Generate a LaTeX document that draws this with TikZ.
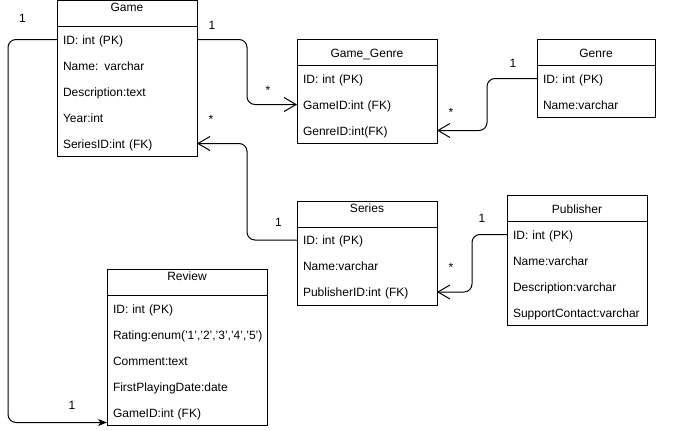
\documentclass[tikz,border=0pt]{standalone}
\usepackage{fontspec}
\setmainfont{Liberation Sans}
\usetikzlibrary{arrows.meta}

\begin{document}
\begin{tikzpicture}[
  x=1pt, y=-1pt,
  font=\fontsize{12}{14}\selectfont,
  line width=1pt,
  frame/.style={draw, anchor=north west, inner sep=0pt, outer sep=0pt},
  head/.style={draw, anchor=north west, inner sep=0pt, outer sep=0pt, minimum height=26pt},
  title/.style={anchor=base, inner sep=0pt},
  row/.style={anchor=north west, inner xsep=6pt, inner ysep=0pt, outer sep=0pt,
              text height=17.5pt, text depth=8.5pt, align=left},
  card/.style={anchor=base, inner sep=0pt},
  rel/.style={draw, rounded corners=8pt, -{Straight Barb[length=12pt,width=14pt]}},
  relf/.style={draw, rounded corners=8pt, -{Stealth[length=9pt,width=7pt,inset=2.5pt]}}
]
\useasboundingbox[fill=white] (0,0) rectangle (678,431);

% ---------- Game ----------
\node[frame, minimum width=140pt, minimum height=156pt] (game) at (57,0.5) {};
\node[head, minimum width=140pt] (gameH) at (57,0.5) {};
\node[title] (gameT) at ([yshift=-11pt]game.north) {Game};
\node[row, text width=128pt] (gID)   at (57,26.5)  {ID: int (PK)};
\node[row, text width=128pt] (gName) at (57,52.5)  {Name: varchar};
\node[row, text width=128pt] (gDesc) at (57,78.5)  {Description:text};
\node[row, text width=128pt] (gYear) at (57,104.5) {Year:int};
\node[row, text width=128pt] (gSer)  at (57,130.5) {SeriesID:int (FK)};

% ---------- Game_Genre ----------
\node[frame, minimum width=140pt, minimum height=104pt] (gg) at (297,39.5) {};
\node[head, minimum width=140pt] (ggH) at (297,39.5) {};
\node[title] (ggT) at ([yshift=-17.5pt]gg.north) {Game\_Genre};
\node[row, text width=128pt] (ggID)    at (297,65.5)  {ID: int (PK)};
\node[row, text width=128pt] (ggGame)  at (297,91.5)  {GameID:int (FK)};
\node[row, text width=128pt] (ggGenre) at (297,117.5) {GenreID:int(FK)};

% ---------- Genre ----------
\node[frame, minimum width=118pt, minimum height=78pt] (gn) at (537,39.5) {};
\node[head, minimum width=118pt] (gnH) at (537,39.5) {};
\node[title] (gnT) at ([yshift=-17.5pt]gn.north) {Genre};
\node[row, text width=106pt] (gnID)   at (537,65.5) {ID: int (PK)};
\node[row, text width=106pt] (gnName) at (537,91.5) {Name:varchar};

% ---------- Series ----------
\node[frame, minimum width=140pt, minimum height=104pt] (ser) at (297,201) {};
\node[head, minimum width=140pt] (serH) at (297,201) {};
\node[title] (serT) at ([yshift=-11pt]ser.north) {Series};
\node[row, text width=128pt] (sID)   at (297,227) {ID: int (PK)};
\node[row, text width=128pt] (sName) at (297,253) {Name:varchar};
\node[row, text width=128pt] (sPub)  at (297,279) {PublisherID:int (FK)};

% ---------- Publisher ----------
\node[frame, minimum width=140pt, minimum height=130pt] (pub) at (507,195.5) {};
\node[head, minimum width=140pt] (pubH) at (507,195.5) {};
\node[title] (pubT) at ([yshift=-17.5pt]pub.north) {Publisher};
\node[row, text width=128pt] (pID)   at (507,221.5) {ID: int (PK)};
\node[row, text width=128pt] (pName) at (507,247.5) {Name:varchar};
\node[row, text width=128pt] (pDesc) at (507,273.5) {Description:varchar};
\node[row, text width=128pt] (pSup)  at (507,299.5) {SupportContact:varchar};

% ---------- Review ----------
\node[frame, minimum width=160pt, minimum height=156pt] (rev) at (107,269.5) {};
\node[head, minimum width=160pt] (revH) at (107,269.5) {};
\node[title] (revT) at ([yshift=-11pt]rev.north) {Review};
\node[row, text width=148pt] (rID)      at (107,295.5) {ID: int (PK)};
\node[row, text width=148pt] (rRating)  at (107,321.5) {Rating:enum('1','2','3','4','5')};
\node[row, text width=148pt] (rComment) at (107,347.5) {Comment:text};
\node[row, text width=148pt] (rDate)    at (107,373.5) {FirstPlayingDate:date};
\node[row, text width=148pt] (rGame)    at (107,399.5) {GameID:int (FK)};

% ---------- relationships ----------
\draw[rel] (gID.east) -| ([xshift=-50pt]ggGame.west) -- (ggGame.west);
\draw[rel] (gnID.west) -| ([xshift=50pt]ggGenre.east) -- (ggGenre.east);
\draw[rel] (sID.west) -| ([xshift=50pt]gSer.east) -- (gSer.east);
\draw[rel] (pID.west) -| ([xshift=35pt]sPub.east) -- (sPub.east);
\draw[relf] (gID.west) -| ([xshift=-99pt,yshift=3pt]rGame.south west) -- ([yshift=3pt]rGame.south west);

% ---------- cardinalities ----------
\node[card] (c1) at (22.5,22.6)  {1};
\node[card] (c2) at (212,29.3)   {1};
\node[card] (c3) at (268,94.8)   {*};
\node[card] (c4) at (211,123)    {*};
\node[card] (c5) at (513,67.6)   {1};
\node[card] (c6) at (451,116.5)  {*};
\node[card] (c7) at (278.5,226)  {1};
\node[card] (c8) at (482,222.6)  {1};
\node[card] (c9) at (451,271.5)  {*};
\node[card] (c10) at (72,409.3)  {1};
\end{tikzpicture}
\end{document}
